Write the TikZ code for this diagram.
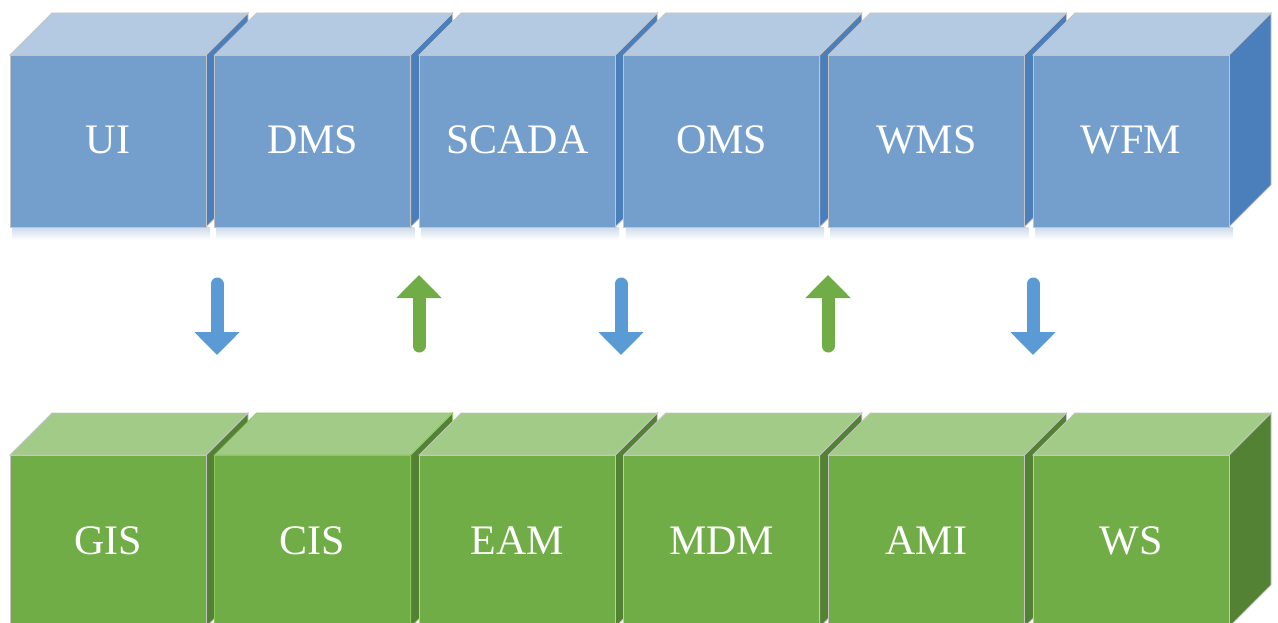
\documentclass[tikz,border=0pt]{standalone}
\usepackage{fontspec}
\setmainfont{Liberation Serif}
\usetikzlibrary{arrows.meta}

% face colours of the two rows of blocks
\definecolor{bfront}{RGB}{116,159,204}
\definecolor{btop}{RGB}{180,202,226}
\definecolor{bside}{RGB}{75,127,188}
\definecolor{gfront}{RGB}{112,173,71}
\definecolor{gtop}{RGB}{162,203,135}
\definecolor{gside}{RGB}{84,130,53}
\definecolor{edgegray}{RGB}{196,196,196}
\definecolor{edgegreen}{RGB}{140,200,90}
\definecolor{arrowblue}{RGB}{91,155,213}
\definecolor{arrowgreen}{RGB}{112,173,71}
\definecolor{shadowblue}{RGB}{205,218,234}

\tikzset{
  face/.style={line width=0.8pt, line join=miter},
  blocklabel/.style={text=white, font=\fontsize{42}{42}\selectfont, anchor=base, inner sep=0pt},
  flowarrow/.style={line width=13pt, line cap=round, -{Triangle[width=44pt,length=23pt]}},
}

% one block: #1 name, #2 left x, #3 top of front face, #4 text, #5 colour prefix, #6 edge colour
\newcommand\blockcube[6]{%
  \begin{scope}[shift={(#2,#3)}]
    \filldraw[face, fill=#5side, draw=#6] (196,0) -- (238,-42) -- (238,130) -- (196,172) -- cycle;
    \filldraw[face, fill=#5top, draw=#6] (0,0) -- (42,-42) -- (238,-42) -- (196,0) -- cycle;
    \filldraw[face, fill=#5front, draw=#6] (0,0) rectangle (196,172);
    \node[blocklabel] (#1) at (98,99) {#4};
  \end{scope}}

\begin{document}
\begin{tikzpicture}[x=1pt, y=-1pt]
  \useasboundingbox (0,0) rectangle (1278,623);
  \clip (0,0) rectangle (1278,623);
  \fill[white] (0,0) rectangle (1278,623);

  % soft shadow under the upper row
  \foreach \i in {0,...,5} {
    \shade[top color=shadowblue, bottom color=white] (10+\i*204.6+2,227) rectangle (10+\i*204.6+200,240);
  }

  % upper row: applications
  \blockcube{ui}{10}{55}{UI}{b}{edgegray}
  \blockcube{dms}{214.6}{55}{DMS}{b}{edgegray}
  \blockcube{scada}{419.2}{55}{SCADA}{b}{edgegray}
  \blockcube{oms}{623.8}{55}{OMS}{b}{edgegray}
  \blockcube{wms}{828.4}{55}{WMS}{b}{edgegray}
  \blockcube{wfm}{1033}{55}{WFM}{b}{edgegray}

  % lower row: data sources
  \blockcube{gis}{10}{455}{GIS}{g}{edgegray}
  \blockcube{cis}{214.6}{455}{CIS}{g}{edgegreen}
  \blockcube{eam}{419.2}{455}{EAM}{g}{edgegray}
  \blockcube{mdm}{623.8}{455}{MDM}{g}{edgegray}
  \blockcube{ami}{828.4}{455}{AMI}{g}{edgegray}
  \blockcube{ws}{1033}{455}{WS}{g}{edgegray}

  % exchange arrows between the rows
  \coordinate (d1a) at (217,284);  \coordinate (d1b) at (217,355);
  \coordinate (u1a) at (419,346);  \coordinate (u1b) at (419,275);
  \coordinate (d2a) at (621,284);  \coordinate (d2b) at (621,355);
  \coordinate (u2a) at (828,346);  \coordinate (u2b) at (828,275);
  \coordinate (d3a) at (1033,284); \coordinate (d3b) at (1033,355);

  \draw[flowarrow, arrowblue] (d1a) -- (d1b);
  \draw[flowarrow, arrowgreen] (u1a) -- (u1b);
  \draw[flowarrow, arrowblue] (d2a) -- (d2b);
  \draw[flowarrow, arrowgreen] (u2a) -- (u2b);
  \draw[flowarrow, arrowblue] (d3a) -- (d3b);
\end{tikzpicture}
\end{document}
